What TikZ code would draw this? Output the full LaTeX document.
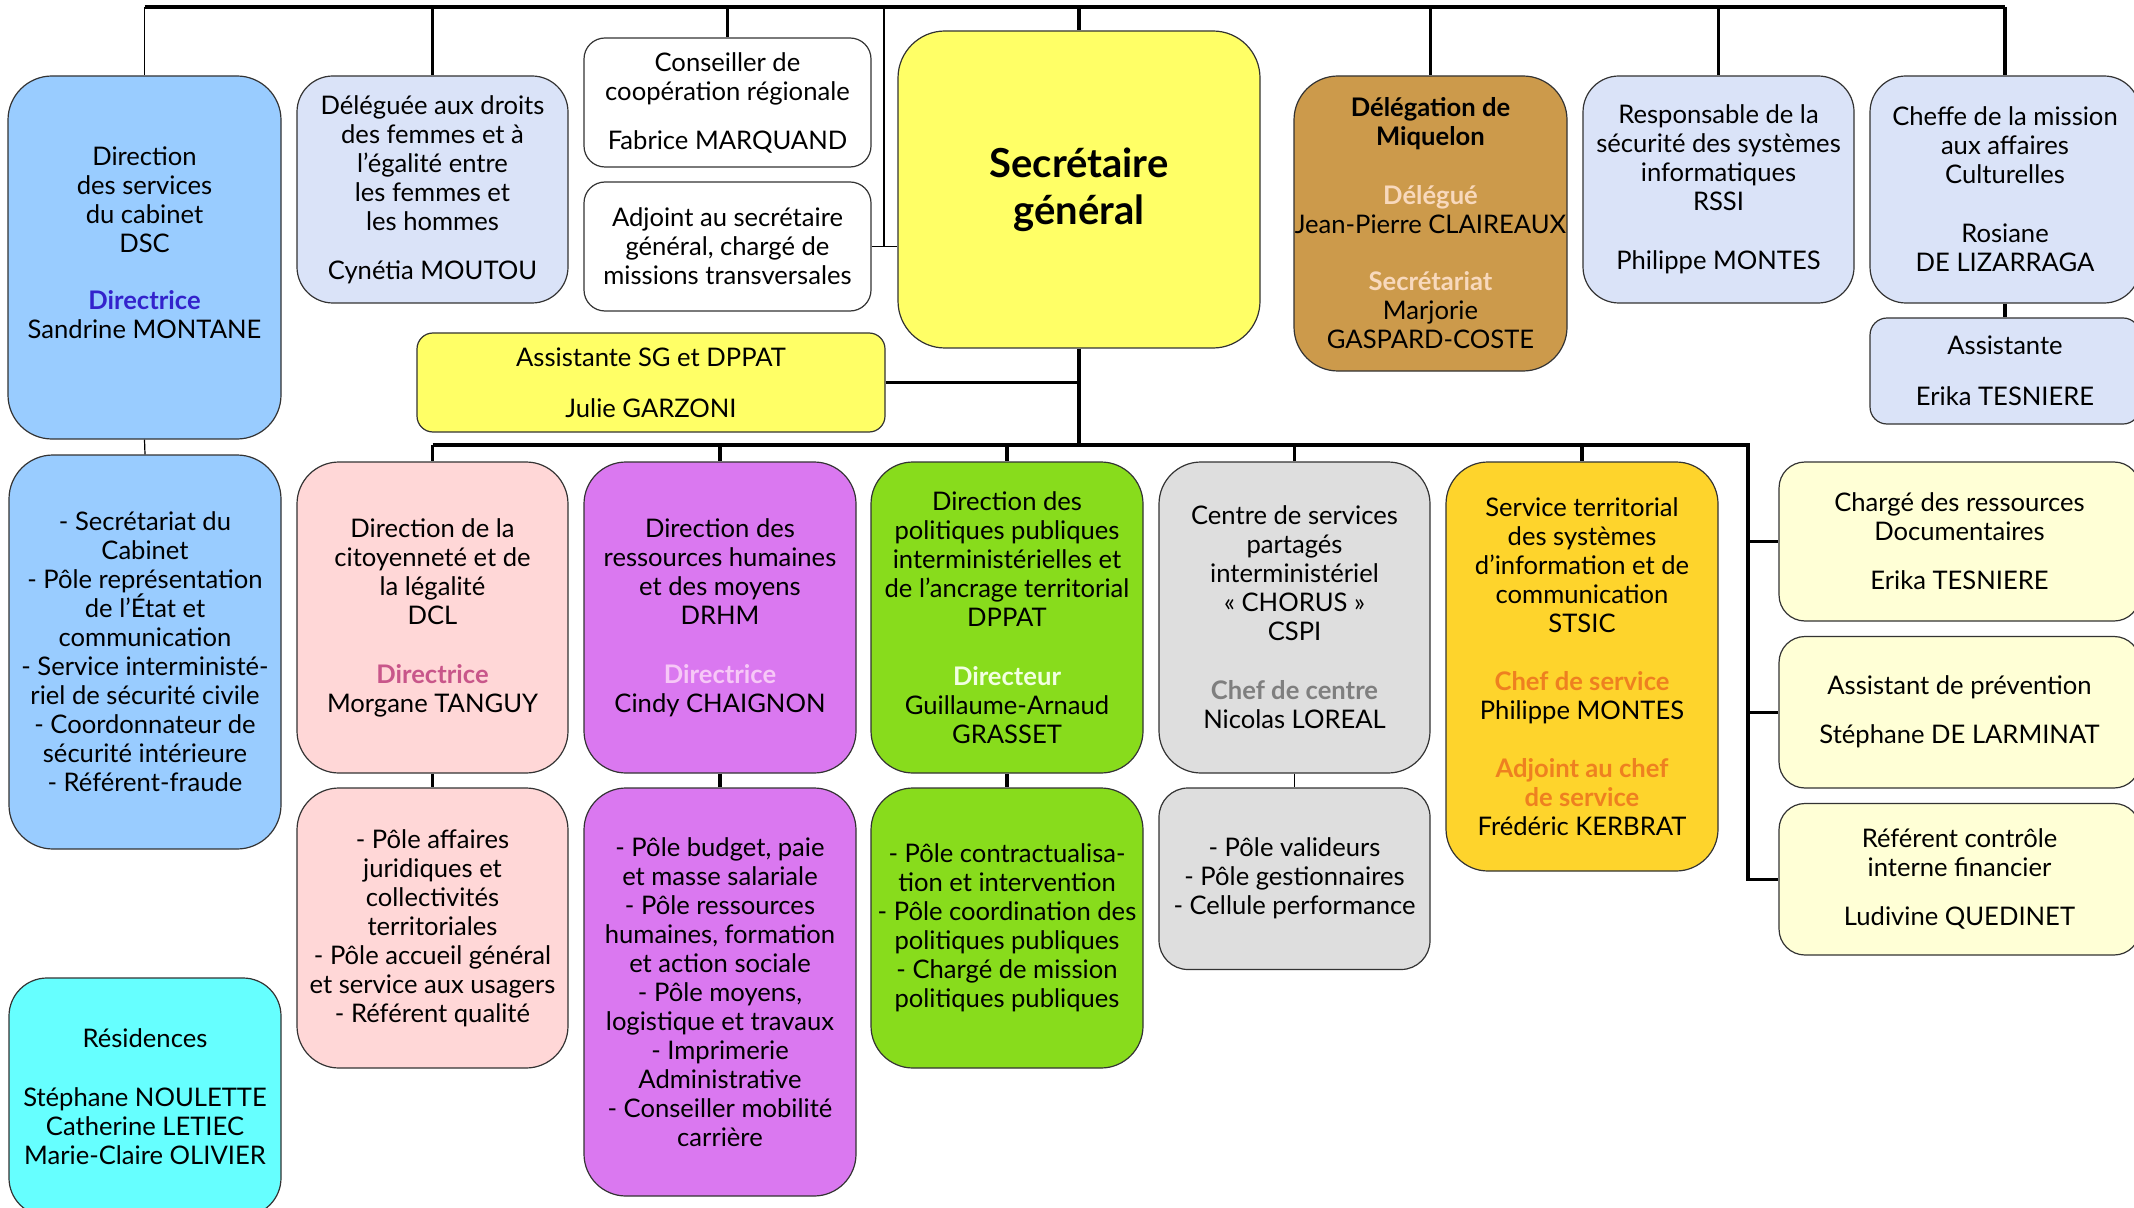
\documentclass[tikz,border=0pt]{standalone}
\usepackage{fontspec}
\setmainfont{Lato}
\usepackage{tikz}

\definecolor{dscblue}{HTML}{99CCFF}
\definecolor{dscdir}{HTML}{3322CC}
\definecolor{lavblue}{HTML}{DAE3F8}
\definecolor{sgyellow}{HTML}{FFFF66}
\definecolor{miqtan}{HTML}{CC9A4B}
\definecolor{miqlight}{HTML}{F8D9BD}
\definecolor{dclpink}{HTML}{FFD7D7}
\definecolor{dclrose}{HTML}{C8568A}
\definecolor{drhmviolet}{HTML}{DA78F0}
\definecolor{drhmlight}{HTML}{F7C8F7}
\definecolor{dppatgreen}{HTML}{88DC1C}
\definecolor{dppatlight}{HTML}{F2FFE2}
\definecolor{cspigray}{HTML}{DEDEDE}
\definecolor{cspitext}{HTML}{7F7F7F}
\definecolor{stsicgold}{HTML}{FED42C}
\definecolor{stsictext}{HTML}{EE8020}
\definecolor{cream}{HTML}{FFFFD6}
\definecolor{rescyan}{HTML}{66FFFF}

\newcommand{\boxfont}{\fontsize{12.8}{14.5}\selectfont}
\newcommand{\sgfont}{\fontsize{20}{23.5}\selectfont\bfseries}
\newcommand{\role}[2]{{\bfseries\color{#1}#2}}

\tikzset{
  orgbox/.style={draw=black!80, line width=0.6pt, align=center, inner sep=0pt, font=\boxfont},
  boxsize/.style 2 args={minimum width=#1*0.5pt, minimum height=#2*0.5pt},
  bus/.style={line width=1.7pt},
  wire/.style={line width=0.6pt}
}

\begin{document}
\begin{tikzpicture}[x=0.5pt,y=-0.5pt]
\clip (0,0) rectangle (2134,1208);
\fill[white] (0,0) rectangle (2134,1208);

\node[orgbox, fill=sgyellow, rounded corners=23.5pt, boxsize={362}{317}, font=\sgfont] (sg) at (1079,189.5) {Secrétaire\\général};
\node[orgbox, fill=dscblue, rounded corners=22pt, boxsize={273}{363}] (dsc) at (144.5,257.5) {Direction\\des services\\du cabinet\\DSC\\[14pt]\role{dscdir}{Directrice}\\Sandrine MONTANE\\\mbox{}};
\node[orgbox, fill=lavblue, rounded corners=18pt, boxsize={271}{227}] (ddf) at (432.5,189.5) {Déléguée aux droits\\des femmes et à\\l’égalité entre\\les femmes et\\les hommes\\[10pt]Cynétia MOUTOU};
\node[orgbox, fill=white, rounded corners=10.5pt, boxsize={287}{129}] (ccr) at (727.5,102.5) {Conseiller de\\coopération régionale\\[10pt]Fabrice MARQUAND};
\node[orgbox, fill=white, rounded corners=10.5pt, boxsize={287}{129}] (adj) at (727.5,246.5) {Adjoint au secrétaire\\général, chargé de\\missions transversales};
\node[orgbox, fill=sgyellow, rounded corners=8pt, boxsize={468}{99}] (asg) at (651,382.5) {Assistante SG et DPPAT\\[11pt]Julie GARZONI};
\node[orgbox, fill=miqtan, rounded corners=22pt, boxsize={273}{295}] (miq) at (1430.5,223.5) {\bfseries Délégation de\\\bfseries Miquelon\\[15pt]\role{miqlight}{Délégué}\\Jean-Pierre CLAIREAUX\\[14pt]\role{miqlight}{Secrétariat}\\Marjorie\\GASPARD-COSTE};
\node[orgbox, fill=lavblue, rounded corners=18pt, boxsize={271}{227}] (rssi) at (1718.5,189.5) {Responsable de la\\sécurité des systèmes\\informatiques\\RSSI\\[15pt]Philippe MONTES};
\node[orgbox, fill=lavblue, rounded corners=18pt, boxsize={270}{227}] (cma) at (2005,189.5) {Cheffe de la mission\\aux affaires\\Culturelles\\[15pt]Rosiane\\DE LIZARRAGA};
\node[orgbox, fill=lavblue, rounded corners=8.5pt, boxsize={270}{106}] (cma-as) at (2005,371) {Assistante\\[11pt]Erika TESNIERE};

\node[orgbox, fill=dscblue, rounded corners=22pt, boxsize={272}{394}] (dsc-sub) at (145,652) {- Secrétariat du\\Cabinet\\- Pôle représentation\\de l’État et\\communication\\- Service interministé-\\riel de sécurité civile\\- Coordonnateur de\\sécurité intérieure\\- Référent-fraude};
\node[orgbox, fill=rescyan, rounded corners=19pt, boxsize={272}{238}] (res) at (145,1097) {Résidences\\[15pt]Stéphane NOULETTE\\Catherine LETIEC\\Marie-Claire OLIVIER};

\node[orgbox, fill=dclpink, rounded corners=21pt, boxsize={271}{311}] (dcl) at (432.5,617.5) {Direction de la\\citoyenneté et de\\la légalité\\DCL\\[15pt]\role{dclrose}{Directrice}\\Morgane TANGUY};
\node[orgbox, fill=dclpink, rounded corners=21pt, boxsize={271}{280}] (dcl-sub) at (432.5,928) {- Pôle affaires\\juridiques et\\collectivités\\territoriales\\- Pôle accueil général\\et service aux usagers\\- Référent qualité};
\node[orgbox, fill=drhmviolet, rounded corners=21pt, boxsize={272}{311}] (drhm) at (720,617.5) {Direction des\\ressources humaines\\et des moyens\\DRHM\\[15pt]\role{drhmlight}{Directrice}\\Cindy CHAIGNON};
\node[orgbox, fill=drhmviolet, rounded corners=21pt, boxsize={272}{408}] (drhm-sub) at (720,992) {- Pôle budget, paie\\et masse salariale\\- Pôle ressources\\humaines, formation\\et action sociale\\- Pôle moyens,\\logistique et travaux\\- Imprimerie\\Administrative\\- Conseiller mobilité\\carrière};
\node[orgbox, fill=dppatgreen, rounded corners=21pt, boxsize={272}{311}] (dppat) at (1007,617.5) {Direction des\\politiques publiques\\interministérielles et\\de l’ancrage territorial\\DPPAT\\[15pt]\role{dppatlight}{Directeur}\\Guillaume-Arnaud\\GRASSET};
\node[orgbox, fill=dppatgreen, rounded corners=21pt, boxsize={272}{280}] (dppat-sub) at (1007,928) {- Pôle contractualisa-\\tion et intervention\\- Pôle coordination des\\politiques publiques\\- Chargé de mission\\politiques publiques};
\node[orgbox, fill=cspigray, rounded corners=21pt, boxsize={271}{311}] (cspi) at (1294.5,617.5) {Centre de services\\partagés\\interministériel\\« CHORUS »\\CSPI\\[15pt]\role{cspitext}{Chef de centre}\\Nicolas LOREAL};
\node[orgbox, fill=cspigray, rounded corners=14.5pt, boxsize={271}{181.5}] (cspi-sub) at (1294.5,878.75) {- Pôle valideurs\\- Pôle gestionnaires\\- Cellule performance};
\node[orgbox, fill=stsicgold, rounded corners=21pt, boxsize={272}{409}] (stsic) at (1582,666.5) {Service territorial\\des systèmes\\d’information et de\\communication\\STSIC\\[14.5pt]\role{stsictext}{Chef de service}\\Philippe MONTES\\[14.5pt]\role{stsictext}{Adjoint au chef}\\\role{stsictext}{de service}\\Frédéric KERBRAT};

\node[orgbox, fill=cream, rounded corners=13pt, boxsize={361}{159}] (crd) at (1959.5,541.5) {Chargé des ressources\\Documentaires\\[10pt]Erika TESNIERE};
\node[orgbox, fill=cream, rounded corners=13pt, boxsize={361}{151.5}] (adp) at (1959.5,712.25) {Assistant de prévention\\[10pt]Stéphane DE LARMINAT};
\node[orgbox, fill=cream, rounded corners=13pt, boxsize={361}{151.5}] (rcif) at (1959.5,879.25) {Référent contrôle\\interne financier\\[10pt]Ludivine QUEDINET};

\coordinate (topbar) at (0,7);
\coordinate (midbar) at (0,445);
\coordinate (adjtap) at (884,7);
\coordinate (rbus) at (1748,445);

\draw[bus] (dsc.north |- topbar) -- (cma.north |- topbar);
\draw[wire] (dsc.north |- topbar) -- (dsc.north);
\draw[bus] (ddf.north |- topbar) -- (ddf.north);
\draw[bus] (ccr.north |- topbar) -- (ccr.north);
\draw[wire] (adjtap) -- (adjtap |- adj.east);
\draw[wire] (adj.east) -- (sg.west |- adj.east);
\draw[bus] (sg.north |- topbar) -- (sg.north);
\draw[bus] (miq.north |- topbar) -- (miq.north);
\draw[bus] (rssi.north |- topbar) -- (rssi.north);
\draw[bus] (cma.north |- topbar) -- (cma.north);
\draw[bus] (cma.south) -- (cma-as.north);
\draw[wire] (dsc.south) -- (dsc-sub.north);

\draw[bus] (sg.south) -- (sg.south |- midbar);
\draw[bus] (asg.east) -- (sg.south |- asg.east);
\draw[bus] (dcl.north |- midbar) -- (rbus) -- (rbus |- rcif.west) -- (rcif.west);
\draw[bus] (rbus |- crd.west) -- (crd.west);
\draw[bus] (rbus |- adp.west) -- (adp.west);
\draw[bus] (dcl.north |- midbar) -- (dcl.north);
\draw[bus] (drhm.north |- midbar) -- (drhm.north);
\draw[bus] (dppat.north |- midbar) -- (dppat.north);
\draw[bus] (cspi.north |- midbar) -- (cspi.north);
\draw[bus] (stsic.north |- midbar) -- (stsic.north);
\draw[bus] (dcl.south) -- (dcl-sub.north);
\draw[bus] (drhm.south) -- (drhm-sub.north);
\draw[bus] (dppat.south) -- (dppat-sub.north);
\draw[wire] (cspi.south) -- (cspi-sub.north);
\end{tikzpicture}
\end{document}
